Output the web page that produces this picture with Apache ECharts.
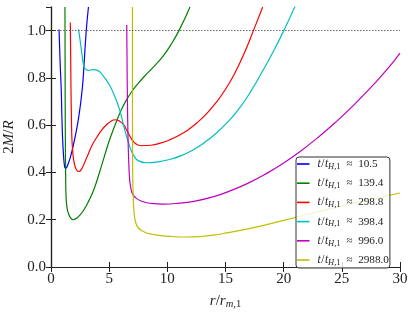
<!DOCTYPE html>
<html>
<head>
<meta charset="utf-8">
<script src="https://cdn.jsdelivr.net/npm/echarts@6/dist/echarts.min.js"></script>
<style>html,body{margin:0;padding:0;background:#fff;}#c{width:415px;height:314px;}</style>
</head>
<body>
<div id="c"></div>
<script>
// Legend labels (t / t_H,1)
var seriesNames = ['10.5', '139.4', '298.8', '398.4', '996.0', '2988.0'];
var seriesColors = ['#0000ff', '#008000', '#ff0000', '#00bfbf', '#bf00bf', '#bfbf00'];
var xTicks = [0, 5, 10, 15, 20, 25, 30];
var yTicks = [0.0, 0.2, 0.4, 0.6, 0.8, 1.0];

// [r/r_m1, 2M/R]
var blue = [[0.69,1.005],[0.78,0.87],[0.88,0.75],[0.94,0.63],[1.0,0.54],[1.08,0.47],[1.15,0.432],[1.23,0.417],[1.33,0.42],[1.5,0.44],[1.71,0.472],[2.02,0.538],[2.37,0.63],[2.68,0.75],[2.85,0.865],[3.03,1.0],[3.22,1.1]];
var green = [[1.2,1.1],[1.21,0.9],[1.22,0.7],[1.24,0.5],[1.26,0.38],[1.3,0.29],[1.38,0.25],[1.5,0.226],[1.7,0.207],[1.9,0.2],[2.3,0.21],[2.8,0.24],[3.3,0.285],[3.7,0.33],[4.2,0.405],[4.6,0.47],[5.0,0.533],[5.5,0.6],[6.0,0.66],[6.5,0.708],[7.0,0.746],[7.5,0.777],[8.0,0.805],[8.8,0.846],[9.6,0.89],[10.3,0.94],[11.0,1.0],[11.95,1.1]];
var red = [[1.66,1.034],[1.69,0.9],[1.72,0.75],[1.76,0.62],[1.8,0.54],[1.9,0.47],[2.0,0.44],[2.15,0.415],[2.37,0.404],[2.6,0.412],[3.09,0.465],[3.5,0.512],[3.95,0.55],[4.4,0.582],[4.8,0.603],[5.2,0.618],[5.5,0.623],[5.9,0.617],[6.23,0.603],[6.5,0.58],[6.8,0.552],[7.1,0.53],[7.4,0.518],[7.8,0.513],[8.6,0.515],[9.4,0.524],[10.2,0.538],[11.0,0.557],[11.8,0.581],[12.6,0.612],[13.4,0.65],[14.2,0.696],[15.0,0.752],[15.8,0.82],[16.6,0.903],[17.4,1.0],[18.2,1.1]];
var cyan = [[2.37,1.005],[2.5,0.96],[2.66,0.9],[2.8,0.855],[2.95,0.838],[3.2,0.832],[3.6,0.835],[4.0,0.832],[4.5,0.808],[5.0,0.772],[5.37,0.735],[5.9,0.665],[6.37,0.575],[6.8,0.505],[7.1,0.472],[7.5,0.45],[8.2,0.441],[9.2,0.445],[10.2,0.455],[11.2,0.471],[12.2,0.495],[13.2,0.527],[14.2,0.566],[15.2,0.614],[16.2,0.672],[17.2,0.745],[18.2,0.83],[19.2,0.92],[20.2,1.02],[21.0,1.105]];
var magenta = [[6.51,1.024],[6.54,0.85],[6.57,0.7],[6.62,0.55],[6.68,0.45],[6.76,0.37],[6.86,0.335],[7.0,0.31],[7.23,0.295],[7.8,0.278],[8.6,0.269],[9.66,0.266],[11.0,0.27],[12.5,0.28],[14.0,0.298],[15.5,0.324],[17.0,0.356],[18.5,0.395],[20.0,0.44],[21.5,0.492],[23.0,0.55],[24.5,0.614],[26.0,0.684],[27.5,0.76],[29.0,0.842],[30,0.905]];
var yellow = [[7.0,1.1],[7.0,0.8],[7.01,0.5],[7.03,0.38],[7.07,0.3],[7.14,0.23],[7.3,0.185],[7.51,0.165],[7.85,0.152],[8.23,0.144],[9.0,0.136],[9.66,0.132],[10.6,0.128],[11.66,0.127],[12.8,0.129],[14.0,0.135],[15.1,0.144],[16.5,0.157],[18.0,0.173],[20.0,0.197],[22.0,0.222],[24.0,0.246],[27.0,0.281],[30,0.313]];
var refLineY = 1.0;

var allData = [blue, green, red, cyan, magenta, yellow];
var FONT = 'Liberation Serif';
var AX = '#222';

var chart = echarts.init(document.getElementById('c'), null, {renderer: 'canvas'});

var series = allData.map(function (d, i) {
  var s = {
    name: seriesNames[i],
    type: 'line',
    data: d,
    showSymbol: false,
    symbol: 'none',
    smooth: 0.5,
    clip: true,
    lineStyle: {color: seriesColors[i], width: 1.2},
    itemStyle: {color: seriesColors[i]},
    emphasis: {disabled: true},
    z: 3
  };
  if (i === 0) {
    s.markLine = {
      silent: true,
      symbol: ['none', 'none'],
      label: {show: false},
      lineStyle: {color: '#444', type: [1.5, 1.5], width: 0.8},
      data: [{yAxis: refLineY}]
    };
  }
  return s;
});

function axisCommon(show) {
  return {
    axisLine: {show: true, lineStyle: {color: AX, width: 1.2}},
    axisTick: {show: true, inside: true, length: 5, lineStyle: {color: AX, width: 1}},
    splitLine: {show: false},
    axisLabel: {show: show}
  };
}

var xMain = Object.assign(axisCommon(true), {
  type: 'value', min: 0, max: 30, interval: 5, position: 'bottom',
  name: '{i|r}{u|/}{i|r}{si|m}{s|,1}', nameLocation: 'middle', nameGap: 22,
  nameTextStyle: {rich: {
    i: {fontFamily: FONT, fontStyle: 'italic', fontSize: 15, color: AX, lineHeight: 20},
    u: {fontFamily: FONT, fontSize: 15, color: AX, lineHeight: 20},
    si: {fontFamily: FONT, fontStyle: 'italic', fontSize: 10.5, color: AX, padding: [7, 0, 0, 0], lineHeight: 20},
    s: {fontFamily: FONT, fontSize: 10.5, color: AX, padding: [7, 0, 0, 0], lineHeight: 20}
  }}
});
xMain.axisLabel = {show: true, fontFamily: FONT, fontSize: 15, color: AX, margin: 5,
  formatter: function (v) { return xTicks.indexOf(v) >= 0 ? String(v) : ''; }};
var xTop = Object.assign(axisCommon(false), {type: 'value', min: 0, max: 30, interval: 5, position: 'top'});

var yMain = Object.assign(axisCommon(true), {
  type: 'value', min: 0, max: 1.1, interval: 0.2, position: 'left',
  name: '{u|2}{i|M}{u|/}{i|R}', nameLocation: 'middle', nameGap: 23, nameRotate: 90,
  nameTextStyle: {rich: {
    i: {fontFamily: FONT, fontStyle: 'italic', fontSize: 15, color: AX},
    u: {fontFamily: FONT, fontSize: 15, color: AX}
  }}
});
yMain.axisLabel = {show: true, fontFamily: FONT, fontSize: 15, color: AX, margin: 5, showMaxLabel: false,
  formatter: function (v) {
    for (var k = 0; k < yTicks.length; k++) { if (Math.abs(yTicks[k] - v) < 1e-6) return yTicks[k].toFixed(1); }
    return '';
  }};
var yRight = Object.assign(axisCommon(false), {type: 'value', min: 0, max: 1.1, interval: 0.2, position: 'right'});

var option = {
  animation: false,
  backgroundColor: '#fff',
  grid: {left: 51, right: 15, top: 7, bottom: 47, containLabel: false, outerBoundsMode: 'none'},
  xAxis: [xMain, xTop],
  yAxis: [yMain, yRight],
  legend: {
    orient: 'vertical',
    left: 296, top: 157,
    padding: [0, 1, 1, 1],
    itemWidth: 12.5, itemHeight: 1.6,
    itemGap: 5.2,
    icon: 'rect',
    backgroundColor: 'rgba(255,255,255,0.8)',
    borderColor: '#333', borderWidth: 1, borderRadius: 3,
    data: seriesNames,
    formatter: function (name) {
      return '{i0|t}{sl|/}{i|t}{si|H}{s|,1}{r|\u2248}{n|' + name + '}';
    },
    textStyle: {
      fontFamily: FONT, fontSize: 11, color: AX,
      rich: {
        i0: {fontFamily: FONT, fontStyle: 'italic', fontSize: 11.5, color: AX, lineHeight: 14, padding: [0, 0, 0, 3]},
        i: {fontFamily: FONT, fontStyle: 'italic', fontSize: 11.5, color: AX, lineHeight: 14},
        sl: {fontFamily: FONT, fontSize: 11.5, color: AX, lineHeight: 14, padding: [0, 0.5, 0, 0.5]},
        n: {fontFamily: FONT, fontSize: 11.2, color: AX, lineHeight: 14},
        r: {fontFamily: FONT, fontSize: 11, color: AX, lineHeight: 14, padding: [0, 5.5, 0, 6]},
        si: {fontFamily: FONT, fontStyle: 'italic', fontSize: 8.5, color: AX, lineHeight: 14, padding: [5, 0, 0, 0]},
        s: {fontFamily: FONT, fontSize: 8.5, color: AX, lineHeight: 14, padding: [5, 0, 0, 0]}
      }
    }
  },
  series: series
};
chart.setOption(option);
</script>
</body>
</html>
